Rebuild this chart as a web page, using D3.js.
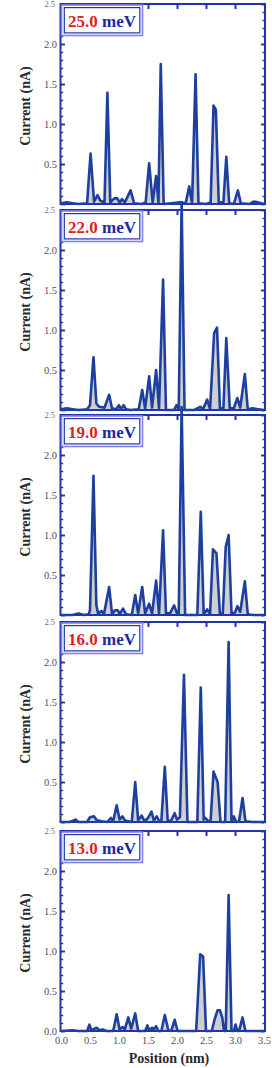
<!DOCTYPE html>
<html>
<head>
<meta charset="utf-8">
<script src="https://cdn.jsdelivr.net/npm/d3@7/dist/d3.min.js"></script>
<style>
  html, body { margin: 0; padding: 0; background: #ffffff; }
  svg { display: block; }
</style>
</head>
<body>
<svg id="chart" width="272" height="1068"></svg>
<script>
// ---------------- DATA ----------------
const energies = ["25.0", "22.0", "19.0", "16.0", "13.0"];
const positionTicks = [0.0, 0.5, 1.0, 1.5, 2.0, 2.5, 3.0, 3.5];
const currentTicks = [0.5, 1.0, 1.5, 2.0];
const currentTopTick = 2.5;
const currentZeroTick = 0.0;

const series25 = [[0.0,0.01],[0.1,0.02],[0.2,0.01],[0.3,0.0],[0.45,0.01],[0.51,0.63],[0.57,0.03],[0.63,0.11],[0.68,0.04],[0.75,0.02],[0.80,1.39],[0.85,0.02],[0.92,0.07],[0.97,0.07],[1.01,0.02],[1.05,0.06],[1.10,0.02],[1.20,0.17],[1.26,0.01],[1.40,0.0],[1.46,0.02],[1.52,0.51],[1.58,0.02],[1.64,0.35],[1.68,0.02],[1.72,1.75],[1.77,0.0],[1.90,0.01],[2.05,0.02],[2.15,0.01],[2.21,0.22],[2.26,0.01],[2.32,1.62],[2.37,0.01],[2.50,0.0],[2.58,0.02],[2.63,1.23],[2.67,1.18],[2.72,0.02],[2.80,0.02],[2.85,0.59],[2.90,0.01],[2.98,0.0],[3.05,0.17],[3.10,0.01],[3.25,0.0],[3.32,0.03],[3.40,0.02],[3.50,0.0]];

const series22 = [[0.0,0.01],[0.1,0.02],[0.2,0.01],[0.3,0.0],[0.45,0.01],[0.50,0.06],[0.56,0.66],[0.61,0.08],[0.66,0.04],[0.75,0.03],[0.83,0.19],[0.88,0.02],[0.95,0.01],[1.00,0.06],[1.03,0.01],[1.08,0.06],[1.12,0.01],[1.20,0.0],[1.34,0.01],[1.40,0.25],[1.45,0.02],[1.52,0.42],[1.57,0.03],[1.64,0.50],[1.69,0.02],[1.76,1.63],[1.81,0.0],[1.95,0.0],[1.99,0.06],[2.03,0.01],[2.08,2.6],[2.13,0.0],[2.30,0.0],[2.40,0.04],[2.45,0.01],[2.52,0.13],[2.57,0.01],[2.64,0.96],[2.69,1.03],[2.74,0.02],[2.80,0.02],[2.85,0.90],[2.91,0.02],[2.98,0.02],[3.04,0.15],[3.09,0.03],[3.17,0.45],[3.22,0.01],[3.30,0.02],[3.40,0.01],[3.50,0.0]];

const series19 = [[0.0,0.0],[0.2,0.0],[0.3,0.02],[0.4,0.0],[0.48,0.01],[0.50,0.06],[0.56,1.74],[0.61,0.12],[0.64,0.02],[0.70,0.05],[0.74,0.01],[0.83,0.35],[0.88,0.01],[0.93,0.06],[0.98,0.06],[1.01,0.01],[1.07,0.08],[1.12,0.01],[1.22,0.0],[1.28,0.25],[1.33,0.02],[1.40,0.35],[1.45,0.02],[1.52,0.14],[1.57,0.02],[1.64,0.43],[1.69,0.02],[1.76,1.06],[1.81,0.02],[1.88,0.02],[1.95,0.12],[2.00,0.02],[2.03,0.01],[2.08,2.6],[2.14,0.0],[2.35,0.0],[2.41,1.29],[2.46,0.01],[2.52,0.07],[2.57,0.01],[2.62,0.82],[2.68,0.77],[2.74,0.01],[2.79,0.02],[2.84,0.85],[2.89,1.00],[2.94,0.02],[3.00,0.03],[3.04,0.11],[3.09,0.04],[3.17,0.42],[3.22,0.01],[3.30,0.0],[3.50,0.0]];

const series16 = [[0.0,0.0],[0.15,0.0],[0.25,0.03],[0.3,0.0],[0.45,0.0],[0.50,0.06],[0.57,0.07],[0.62,0.02],[0.70,0.01],[0.80,0.0],[0.86,0.05],[0.90,0.01],[0.96,0.21],[1.01,0.03],[1.06,0.07],[1.10,0.02],[1.16,0.01],[1.22,0.0],[1.28,0.50],[1.33,0.02],[1.39,0.08],[1.44,0.01],[1.50,0.05],[1.56,0.13],[1.60,0.02],[1.65,0.07],[1.70,0.0],[1.73,0.01],[1.79,0.69],[1.84,0.01],[1.90,0.02],[1.96,0.11],[2.00,0.03],[2.05,0.06],[2.12,1.84],[2.18,0.0],[2.35,0.0],[2.41,1.68],[2.46,0.03],[2.49,0.05],[2.54,0.01],[2.58,0.02],[2.63,0.63],[2.70,0.50],[2.75,0.0],[2.83,0.0],[2.89,2.25],[2.94,0.0],[2.98,0.07],[3.02,0.0],[3.07,0.01],[3.13,0.30],[3.18,0.01],[3.30,0.0],[3.50,0.0]];

const series13 = [[0.0,0.0],[0.2,0.01],[0.3,0.0],[0.45,0.0],[0.49,0.08],[0.52,0.01],[0.58,0.03],[0.62,0.04],[0.66,0.01],[0.72,0.02],[0.78,0.0],[0.90,0.0],[0.96,0.21],[1.01,0.02],[1.06,0.05],[1.10,0.02],[1.16,0.17],[1.21,0.03],[1.28,0.22],[1.33,0.0],[1.45,0.0],[1.49,0.07],[1.52,0.01],[1.57,0.04],[1.60,0.02],[1.64,0.06],[1.68,0.0],[1.73,0.0],[1.79,0.20],[1.85,0.01],[1.90,0.0],[1.96,0.14],[2.01,0.0],[2.33,0.0],[2.40,0.96],[2.45,0.93],[2.50,0.0],[2.60,0.0],[2.65,0.15],[2.70,0.26],[2.74,0.26],[2.78,0.17],[2.81,0.0],[2.84,0.0],[2.89,1.70],[2.94,0.0],[2.98,0.0],[3.01,0.08],[3.04,0.0],[3.07,0.0],[3.13,0.17],[3.18,0.0],[3.50,0.0]];

const allSeries = [series25, series22, series19, series16, series13];

// ---------------- LAYOUT ----------------
const panelTops = [4, 210, 415, 622, 831];
const panelH = 200;
const xLeft = 61, xRight = 264;
const frameColor = "#2233aa";
const lineColor = "#1c3fa0";
const fillColor = "#cfcfcf";
const serif = "'Liberation Serif', 'DejaVu Serif', serif";

const svg = d3.select("#chart");
const x = d3.scaleLinear().domain([0, 3.5]).range([xLeft, xRight]);

allSeries.forEach((data, i) => {
  const top = panelTops[i];
  const y = d3.scaleLinear().domain([0, 2.5]).range([top + panelH, top]);
  const g = svg.append("g");

  // area fill
  const area = d3.area().x(d => x(d[0])).y0(y(0)).y1(d => y(d[1]));
  g.append("path").datum(data).attr("d", area).attr("fill", fillColor);

  // frame
  g.append("rect").attr("x", x(0) - 0.5).attr("y", y(2.5)).attr("width", x(3.5) - x(0) + 1.5)
    .attr("height", panelH).attr("fill", "none").attr("stroke", frameColor).attr("stroke-width", 2);

  // left axis: major ticks inward
  const leftMajor = d3.axisLeft(y).tickValues(d3.range(0, 2.51, 0.5)).tickSize(-4).tickFormat("");
  g.append("g").attr("transform", `translate(${x(0)},0)`).call(leftMajor)
    .call(s => s.select(".domain").remove())
    .call(s => s.selectAll("line").attr("stroke", frameColor).attr("stroke-width", 1.8));
  const leftMinor = d3.axisLeft(y).tickValues(d3.range(0.1, 2.5, 0.1)).tickSize(-2.2).tickFormat("");
  g.append("g").attr("transform", `translate(${x(0)},0)`).call(leftMinor)
    .call(s => s.select(".domain").remove())
    .call(s => s.selectAll("line").attr("stroke", frameColor).attr("stroke-width", 1.4));

  // right axis: major + minor ticks inward
  const rightMajor = d3.axisRight(y).tickValues(d3.range(0, 2.51, 0.5)).tickSize(-4).tickFormat("");
  g.append("g").attr("transform", `translate(${x(3.5) + 1},0)`).call(rightMajor)
    .call(s => s.select(".domain").remove())
    .call(s => s.selectAll("line").attr("stroke", frameColor).attr("stroke-width", 1.8));
  const rightMinor = d3.axisRight(y).tickValues(d3.range(0.1, 2.5, 0.1)).tickSize(-2.5).tickFormat("");
  g.append("g").attr("transform", `translate(${x(3.5) + 1},0)`).call(rightMinor)
    .call(s => s.select(".domain").remove())
    .call(s => s.selectAll("line").attr("stroke", frameColor).attr("stroke-width", 1.4));

  // top axis: major ticks pointing down
  const topAxis = d3.axisTop(x).tickValues(positionTicks.slice(1, -1)).tickSize(-5).tickFormat("");
  g.append("g").attr("transform", `translate(0,${y(2.5)})`).call(topAxis)
    .call(s => s.select(".domain").remove())
    .call(s => s.selectAll("line").attr("stroke", frameColor).attr("stroke-width", 2));

  // y tick labels
  const labAxis = d3.axisLeft(y).tickValues(currentTicks).tickSize(0).tickPadding(3).tickFormat(d3.format(".1f"));
  g.append("g").attr("transform", `translate(${x(0) - 1},0)`).call(labAxis)
    .call(s => s.select(".domain").remove())
    .call(s => s.selectAll("text").attr("font-family", serif).attr("font-size", 10.5).attr("fill", "#505050"));
  const topLab = d3.axisLeft(y).tickValues([currentTopTick]).tickSize(0).tickPadding(5).tickFormat(d3.format(".1f"));
  g.append("g").attr("transform", `translate(${x(0) - 1},0)`).call(topLab)
    .call(s => s.select(".domain").remove())
    .call(s => s.selectAll("text").attr("font-family", serif).attr("font-size", 8.5).attr("fill", "#707070"));
  if (i === allSeries.length - 1) {
    const zeroLab = d3.axisLeft(y).tickValues([currentZeroTick]).tickSize(0).tickPadding(3).tickFormat(d3.format(".1f"));
    g.append("g").attr("transform", `translate(${x(0) - 1},0)`).call(zeroLab)
      .call(s => s.select(".domain").remove())
      .call(s => s.selectAll("text").attr("font-family", serif).attr("font-size", 10.5).attr("fill", "#505050"));
  }

  // data line
  const line = d3.line().x(d => x(d[0])).y(d => y(d[1]));
  g.append("path").datum(data).attr("d", line).attr("fill", "none")
    .attr("stroke", lineColor).attr("stroke-width", 2.6).attr("stroke-linejoin", "round");

  // y label
  g.append("text").attr("transform", `translate(30,${top + panelH / 2 + 2}) rotate(-90)`)
    .attr("text-anchor", "middle").attr("font-family", serif).attr("font-weight", "bold")
    .attr("font-size", 14).attr("fill", "#2a2a2a").text("Current (nA)");

  // energy label box
  g.append("rect").attr("x", 61.5).attr("y", top + 1).attr("width", 81).attr("height", 30.5)
    .attr("fill", "#fff").attr("stroke", "#8080ee").attr("stroke-width", 1.6);
  g.append("rect").attr("x", 64.3).attr("y", top + 3.6).attr("width", 75.5).attr("height", 25.3)
    .attr("fill", "none").attr("stroke", frameColor).attr("stroke-width", 1.2);
  const t = g.append("text").attr("x", 68).attr("y", top + 22.5).attr("font-family", serif)
    .attr("font-weight", "bold").attr("font-size", 17);
  t.append("tspan").attr("fill", "#e0201c").text(energies[i]);
  t.append("tspan").attr("fill", "#1c2a9c").text(" meV");

  // bottom panel: x axis labels
  if (i === allSeries.length - 1) {
    const bottomAxis = d3.axisBottom(x).tickValues(positionTicks).tickSize(0).tickPadding(6).tickFormat(d3.format(".1f"));
    g.append("g").attr("transform", `translate(0,${y(0)})`).call(bottomAxis)
      .call(s => s.select(".domain").remove())
      .call(s => s.selectAll("text").attr("font-family", serif).attr("font-size", 10.5).attr("fill", "#505050"));
    g.append("text").attr("x", 169).attr("y", 1063).attr("text-anchor", "middle")
      .attr("font-family", serif).attr("font-weight", "bold").attr("font-size", 14)
      .attr("fill", "#2a2a2a").text("Position (nm)");
  }
});
</script>
</body>
</html>
